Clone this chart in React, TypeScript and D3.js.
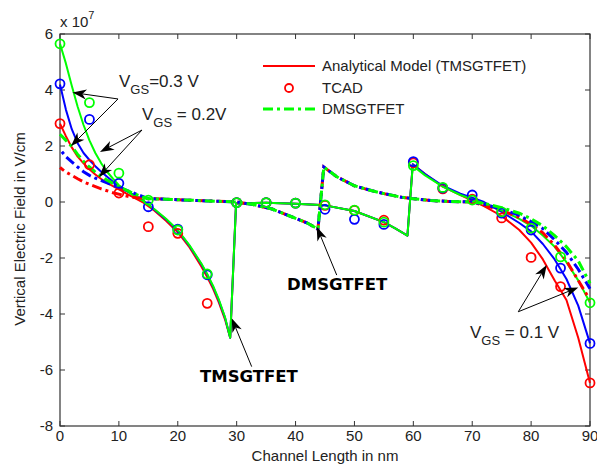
import React from "react";
import * as d3 from "d3";

type Pt = [number, number];

// axis ticks
const xTicks = [0, 10, 20, 30, 40, 50, 60, 70, 80, 90];
const yTicks = [-8, -6, -4, -2, 0, 2, 4, 6];

// TCAD points (units of 1e7 V/cm)
const tcadX = [0, 5, 10, 15, 20, 25, 30, 35, 40, 45, 50, 55, 60, 65, 70, 75, 80, 85, 90];
const tcadRed = [2.8, 1.33, 0.32, -0.88, -1.12, -3.62, -0.02, -0.02, -0.04, -0.12, -0.3, -0.65, 1.4, 0.47, 0.1, -0.57, -1.98, -3.02, -6.46];
const tcadBlue = [4.22, 2.95, 0.67, -0.17, -0.97, -2.6, -0.02, -0.02, -0.04, -0.26, -0.62, -0.8, 1.44, 0.5, 0.25, -0.4, -1.0, -2.36, -5.05];
const tcadGreen = [5.65, 3.55, 1.03, 0.07, -1.0, -2.57, -0.02, -0.02, -0.04, -0.1, -0.29, -0.72, 1.3, 0.52, 0.07, -0.35, -0.93, -1.96, -3.6];

// analytical model (TMSGTFET)
const solidMid: Pt[] = [[29.9, -0.05], [35, -0.03], [40, -0.06], [45, -0.12], [50, -0.32], [55, -0.72], [57, -0.95], [59, -1.2]];
const solidRedHead: Pt[] = [[0, 2.8], [1, 2.35], [2, 1.95], [3, 1.62], [4, 1.38], [5, 1.17], [6, 0.98], [7, 0.82], [8, 0.68], [10, 0.45], [12, 0.22], [14, 0.0], [16, -0.3], [18, -0.67], [20, -1.08], [22, -1.62], [24, -2.3], [25, -2.68], [26, -3.1], [27, -3.6], [28, -4.18], [28.9, -4.85]];
const solidRedTail: Pt[] = [[59.9, 1.35], [62, 1.0], [65, 0.55], [68, 0.25], [70, 0.05], [72, -0.15], [75, -0.5], [78, -1.0], [80, -1.45], [82, -2.05], [84, -2.8], [86, -3.5], [88, -4.85], [90, -6.46]];
const solidBlueHead: Pt[] = [[0, 4.2], [1, 3.3], [2, 2.6], [3, 2.1], [4, 1.75], [5, 1.5], [6, 1.28], [7, 1.08], [8, 0.9], [9, 0.72], [10, 0.57], [12, 0.32], [14, 0.08], [16, -0.27], [18, -0.62], [20, -1.02], [22, -1.57], [24, -2.22], [25, -2.6], [26, -3.03], [27, -3.53], [28, -4.12], [28.9, -4.85]];
const solidBlueTail: Pt[] = [[59.9, 1.35], [62, 1.0], [65, 0.58], [68, 0.3], [70, 0.15], [72, 0.0], [75, -0.35], [78, -0.75], [80, -1.05], [82, -1.5], [84, -2.05], [86, -2.75], [88, -3.7], [90, -5.05]];
const solidGreenHead: Pt[] = [[0, 5.65], [1, 4.95], [2, 4.15], [3, 3.4], [4, 2.75], [5, 2.2], [6, 1.75], [7, 1.38], [8, 1.08], [9, 0.83], [10, 0.6], [12, 0.3], [14, 0.06], [16, -0.25], [18, -0.6], [20, -1.0], [22, -1.55], [24, -2.2], [25, -2.57], [26, -3.0], [27, -3.5], [28, -4.1], [28.9, -4.85]];
const solidGreenTail: Pt[] = [[59.9, 1.3], [62, 0.95], [65, 0.55], [68, 0.25], [70, 0.1], [72, -0.05], [75, -0.3], [78, -0.6], [80, -0.85], [82, -1.2], [84, -1.6], [86, -2.15], [88, -2.8], [90, -3.6]];

// DMSGTFET
const dashMid: Pt[] = [[15, 0.12], [18, 0.1], [20, 0.08], [25, 0.04], [30, 0.0], [33, -0.1], [36, -0.25], [39, -0.5], [42, -0.75], [43.8, -0.97], [44.8, 1.25], [47, 0.9], [50, 0.58], [53, 0.4], [55, 0.3], [58, 0.17], [60, 0.12], [63, 0.05], [66, 0.02], [70, 0.0]];
const dashRedHead: Pt[] = [[0, 1.23], [1, 1.07], [2, 0.95], [3, 0.83], [4, 0.72], [5, 0.63], [7, 0.47], [9, 0.33], [12, 0.18], [14, 0.13]];
const dashRedTail: Pt[] = [[72, -0.12], [75, -0.3], [78, -0.55], [80, -0.8], [82, -1.1], [84, -1.55], [86, -2.1], [88, -2.8], [90, -3.5]];
const dashBlueHead: Pt[] = [[0, 1.88], [1, 1.62], [2, 1.43], [3, 1.25], [4, 1.08], [5, 0.95], [6, 0.85], [8, 0.68], [10, 0.52], [12, 0.36], [14, 0.2]];
const dashBlueTail: Pt[] = [[72, -0.08], [75, -0.25], [78, -0.48], [80, -0.7], [82, -0.95], [84, -1.35], [86, -1.8], [88, -2.4], [90, -3.1]];
const dashGreenHead: Pt[] = [[0, 2.42], [1, 2.2], [2, 1.98], [3, 1.7], [4, 1.45], [5, 1.25], [6, 1.07], [7, 0.92], [8, 0.78], [10, 0.55], [12, 0.35], [14, 0.18]];
const dashGreenTail: Pt[] = [[72, -0.05], [75, -0.2], [78, -0.4], [80, -0.6], [82, -0.85], [84, -1.2], [86, -1.6], [88, -2.1], [89, -2.5], [90, -2.9]];

const RED = "#ff0000";
const BLUE = "#0000ff";
const GREEN = "#00ff00";
const FONT = "Arial, 'Liberation Sans', sans-serif";
const INK = "#222";

const x = d3.scaleLinear().domain([0, 90]).range([60, 590]);
const y = d3.scaleLinear().domain([-8, 6]).range([426, 34]);
const line = d3.line<Pt>().x((d) => x(d[0])).y((d) => y(d[1]));

const solids = [
  { c: RED, d: solidRedHead.concat(solidMid, solidRedTail) },
  { c: BLUE, d: solidBlueHead.concat(solidMid, solidBlueTail) },
  { c: GREEN, d: solidGreenHead.concat(solidMid, solidGreenTail) },
];
const dashes = [
  { c: RED, d: dashRedHead.concat(dashMid, dashRedTail), off: 5 },
  { c: BLUE, d: dashBlueHead.concat(dashMid, dashBlueTail), off: 11 },
  { c: GREEN, d: dashGreenHead.concat(dashMid, dashGreenTail), off: 0 },
];
const tcads = [
  { c: RED, v: tcadRed },
  { c: BLUE, v: tcadBlue },
  { c: GREEN, v: tcadGreen },
];

// annotation arrows, in data units: [from, tip]
const arrows: [Pt, Pt][] = [
  [[9.85, 3.68], [2.12, 3.91]],
  [[9.85, 3.68], [1.87, 2.0]],
  [[13.92, 2.57], [6.79, 1.79]],
  [[13.92, 2.57], [6.62, 0.89]],
  [[32.55, -5.88], [29.16, -4.15]],
  [[46.99, -2.61], [43.59, -0.88]],
  [[77.82, -3.92], [82.65, -2.25]],
  [[77.82, -3.92], [88.01, -3.05]],
];

function Arrow({ from, to }: { from: Pt; to: Pt }) {
  const x1 = x(from[0]), y1 = y(from[1]);
  const x2 = x(to[0]), y2 = y(to[1]);
  const a = Math.atan2(y2 - y1, x2 - x1);
  const ux = Math.cos(a), uy = Math.sin(a);
  const L = 14, hw = 5, notch = 10;
  const bx = x2 - L * ux, by = y2 - L * uy;
  const pts = [
    [x2, y2],
    [bx - hw * uy, by + hw * ux],
    [x2 - notch * ux, y2 - notch * uy],
    [bx + hw * uy, by - hw * ux],
  ];
  return (
    <g>
      <line x1={x1} y1={y1} x2={x2 - notch * ux} y2={y2 - notch * uy} stroke="#000" strokeWidth={1} />
      <polygon points={pts.map((p) => p.join(",")).join(" ")} fill="#000" />
    </g>
  );
}

function Vgs({ at, value }: { at: Pt; value: string }) {
  return (
    <text x={x(at[0])} y={y(at[1])} fontSize={17} fill={INK} fontFamily={FONT}>
      V
      <tspan fontSize={13} dy={7}>GS</tspan>
      <tspan fontSize={17} dy={-7}>{value}</tspan>
    </text>
  );
}

export default function App() {
  const [x0, x1] = x.range();
  const [yb, yt] = y.range();
  return (
    <svg width={597} height={465} style={{ position: "absolute", left: 0, top: 0, background: "#fff" }}>
      <rect width={597} height={465} fill="#fff" />

      {/* axes box and ticks */}
      <rect x={x0} y={yt} width={x1 - x0} height={yb - yt} fill="none" stroke="#333" strokeWidth={1.2} />
      {xTicks.map((t) => (
        <g key={"xt" + t}>
          <line x1={x(t)} x2={x(t)} y1={yb} y2={yb - 5} stroke="#333" />
          <line x1={x(t)} x2={x(t)} y1={yt} y2={yt + 5} stroke="#333" />
          <text x={x(t)} y={441} textAnchor="middle" fontSize={15} fill={INK} fontFamily={FONT}>{t}</text>
        </g>
      ))}
      {yTicks.map((t) => (
        <g key={"yt" + t}>
          <line x1={x0} x2={x0 + 5} y1={y(t)} y2={y(t)} stroke="#333" />
          <line x1={x1} x2={x1 - 5} y1={y(t)} y2={y(t)} stroke="#333" />
          <text x={53} y={y(t)} dy="0.35em" textAnchor="end" fontSize={15} fill={INK} fontFamily={FONT}>{t}</text>
        </g>
      ))}
      <text x={60} y={27} fontSize={15} fill={INK} fontFamily={FONT}>
        x 10<tspan fontSize={11} dy={-8}>7</tspan>
      </text>
      <text x={325} y={461} textAnchor="middle" fontSize={15} fill={INK} fontFamily={FONT}>Channel Length in nm</text>
      <text transform="translate(25,229) rotate(-90)" textAnchor="middle" fontSize={15} fill={INK} fontFamily={FONT}>
        Vertical Electric Field in V/cm
      </text>

      {/* analytical model */}
      {solids.map((s, i) => (
        <path key={"s" + i} d={line(s.d) ?? ""} fill="none" stroke={s.c} strokeWidth={2} strokeLinejoin="round" />
      ))}
      {/* DMSGTFET */}
      {dashes.map((s, i) => (
        <path key={"d" + i} d={line(s.d) ?? ""} fill="none" stroke={s.c} strokeWidth={3}
          strokeDasharray="10,4,3,4" strokeDashoffset={s.off} />
      ))}
      {/* TCAD */}
      {tcads.map((s, i) =>
        s.v.map((v, j) => (
          <circle key={"c" + i + "-" + j} cx={x(tcadX[j])} cy={y(v)} r={4.5} fill="none" stroke={s.c} strokeWidth={1.8} />
        ))
      )}

      {/* annotations */}
      {arrows.map((a, i) => <Arrow key={"a" + i} from={a[0]} to={a[1]} />)}
      <Vgs at={[10.02, 4.11]} value="=0.3 V" />
      <Vgs at={[13.92, 2.93]} value=" = 0.2V" />
      <Vgs at={[69.62, -4.86]} value=" = 0.1 V" />
      <text x={x(23.77)} y={y(-6.43)} fontSize={16.5} fontWeight="bold" fill="#000" fontFamily="'DejaVu Sans', sans-serif">TMSGTFET</text>
      <text x={x(38.55)} y={y(-3.14)} fontSize={16.5} fontWeight="bold" fill="#000" fontFamily="'DejaVu Sans', sans-serif">DMSGTFET</text>

      {/* legend */}
      <line x1={263} x2={315} y1={66} y2={66} stroke={RED} strokeWidth={2} />
      <text x={322} y={71} fontSize={15} fill={INK} fontFamily={FONT}>Analytical Model (TMSGTFET)</text>
      <circle cx={289} cy={88} r={4} fill="none" stroke={RED} strokeWidth={1.8} />
      <text x={322} y={93} fontSize={15} fill={INK} fontFamily={FONT}>TCAD</text>
      <line x1={263} x2={315} y1={109} y2={109} stroke={GREEN} strokeWidth={3} strokeDasharray="10,4,3,4" />
      <text x={322} y={114} fontSize={15} fill={INK} fontFamily={FONT}>DMSGTFET</text>
    </svg>
  );
}
